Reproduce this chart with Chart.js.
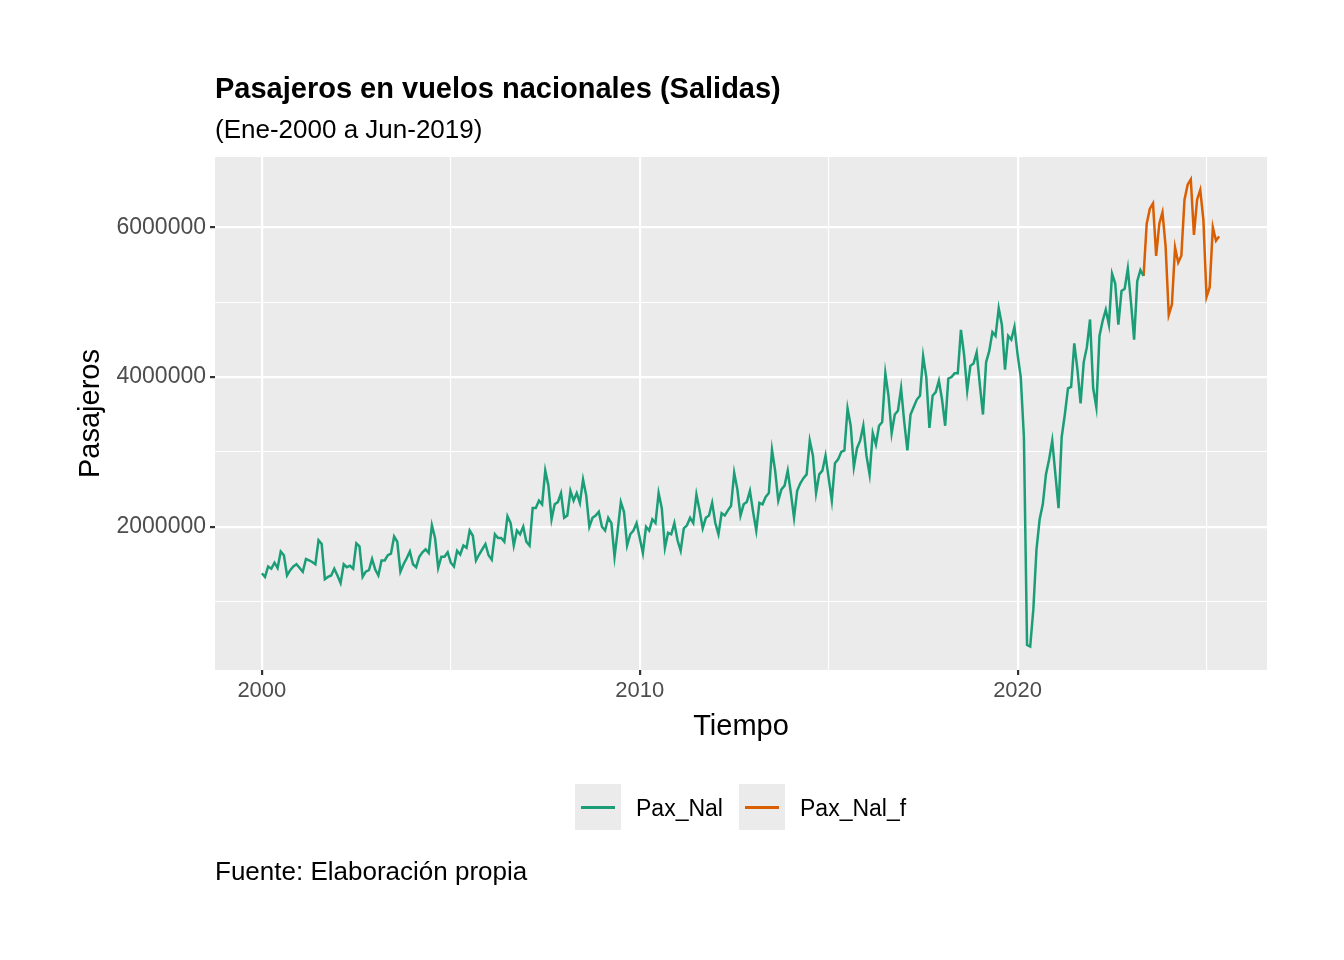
<!DOCTYPE html>
<html>
<head>
<meta charset="utf-8">
<script src="https://cdn.jsdelivr.net/npm/chart.js@4.4.1/dist/chart.umd.min.js"></script>
<style>
  body { margin: 0; background: #fff; font-family: "Liberation Sans", Arial, sans-serif; }
  #wrap { position: relative; width: 1344px; height: 960px; }
  canvas { position: absolute; left: 0; top: 0; }
  .txt { position: absolute; white-space: nowrap; color: #000; line-height: 1; }
  .key { position: absolute; width: 46px; height: 46px; background: #ebebeb; }
  .key span { position: absolute; left: 6px; right: 6px; top: 22px; height: 2.5px; }
</style>
</head>
<body>
<div id="wrap">
  <canvas id="chart" width="1344" height="960"></canvas>
  <div class="txt" style="left:215px; top:74px; font-size:29px; font-weight:bold;">Pasajeros en vuelos nacionales (Salidas)</div>
  <div class="txt" style="left:215px; top:116px; font-size:26px;">(Ene-2000 a Jun-2019)</div>
  <div class="key" style="left:575px; top:784px;"><span style="background:#1b9e77"></span></div>
  <div class="txt" style="left:636px; top:797px; font-size:23px;">Pax_Nal</div>
  <div class="key" style="left:739px; top:784px;"><span style="background:#d95f02"></span></div>
  <div class="txt" style="left:800px; top:797px; font-size:23px;">Pax_Nal_f</div>
  <div class="txt" style="left:215px; top:858px; font-size:26px;">Fuente: Elaboración propia</div>
</div>
<script>
// monthly series, millions of passengers, starting Jan-2000
const startYear = 2000;
const paxNal = [
  1.38,1.33,1.47,1.44,1.52,1.45,1.67,1.62,1.35,1.42,1.47,1.50,
  1.45,1.40,1.57,1.55,1.53,1.50,1.82,1.77,1.30,1.33,1.35,1.44,
  1.35,1.25,1.50,1.46,1.48,1.44,1.78,1.74,1.33,1.40,1.42,1.57,
  1.43,1.35,1.55,1.55,1.62,1.64,1.87,1.80,1.40,1.50,1.58,1.67,
  1.50,1.46,1.60,1.66,1.70,1.65,2.02,1.85,1.45,1.60,1.60,1.66,
  1.52,1.47,1.68,1.63,1.75,1.72,1.95,1.88,1.55,1.63,1.70,1.77,
  1.62,1.56,1.90,1.85,1.85,1.80,2.14,2.05,1.75,1.95,1.90,2.00,
  1.80,1.75,2.25,2.25,2.35,2.30,2.75,2.55,2.10,2.30,2.33,2.45,
  2.12,2.15,2.48,2.35,2.45,2.32,2.63,2.42,2.00,2.12,2.15,2.20,
  2.00,1.95,2.12,2.05,1.60,1.95,2.33,2.20,1.75,1.90,1.95,2.05,
  1.85,1.65,2.00,1.95,2.10,2.05,2.45,2.25,1.72,1.92,1.90,2.05,
  1.82,1.68,1.98,2.02,2.12,2.05,2.43,2.22,1.98,2.12,2.15,2.32,
  2.05,1.90,2.18,2.15,2.22,2.28,2.72,2.50,2.15,2.30,2.33,2.48,
  2.20,1.95,2.32,2.30,2.40,2.45,3.03,2.75,2.35,2.50,2.55,2.75,
  2.45,2.12,2.48,2.58,2.65,2.70,3.15,2.95,2.45,2.70,2.75,2.95,
  2.65,2.35,2.85,2.90,3.00,3.02,3.58,3.35,2.80,3.05,3.15,3.35,
  2.95,2.70,3.25,3.10,3.35,3.40,4.05,3.75,3.25,3.50,3.55,3.85,
  3.40,3.02,3.50,3.60,3.70,3.75,4.28,4.00,3.32,3.75,3.80,3.95,
  3.70,3.35,3.98,4.00,4.05,4.05,4.63,4.30,3.82,4.15,4.18,4.33,
  3.90,3.50,4.20,4.35,4.60,4.55,4.92,4.70,4.10,4.55,4.50,4.67,
  4.30,4.00,3.20,0.42,0.40,0.90,1.70,2.10,2.30,2.70,2.90,3.15,
  2.70,2.25,3.20,3.50,3.85,3.87,4.45,4.10,3.65,4.20,4.40,4.77,
  3.85,3.60,4.55,4.75,4.90,4.70,5.38,5.25,4.70,5.15,5.18,5.45,
  5.00,4.50,5.28,5.43,5.35
];
// forecast, starting May-2023 (joins the last observed month)
const forecastStart = 2023 + 4 / 12;
const paxNalF = [
  5.35,6.05,6.25,6.32,5.62,6.05,6.20,5.75,
  4.83,4.97,5.73,5.53,5.62,6.37,6.57,6.64,5.90,6.37,6.50,6.10,
  5.07,5.20,6.00,5.82,5.88
];
const yTicks = [2000000, 4000000, 6000000];
const xTicks = [2000, 2010, 2020];

const toPoints = (vals, t0) => vals.map((v, i) => ({ x: t0 + i / 12, y: v * 1e6 }));

// grey panel behind the plot
const panelBg = {
  id: 'panelBg',
  beforeDraw(chart) {
    const a = chart.chartArea, c = chart.ctx;
    c.save();
    c.fillStyle = '#ebebeb';
    c.fillRect(a.left, a.top, a.right - a.left, a.bottom - a.top);
    c.restore();
  }
};

new Chart(document.getElementById('chart'), {
  type: 'scatter',
  data: {
    datasets: [
      { label: 'Pax_Nal', data: toPoints(paxNal, startYear), showLine: true,
        borderColor: '#1b9e77', borderWidth: 2.5, pointRadius: 0, tension: 0 },
      { label: 'Pax_Nal_f', data: toPoints(paxNalF, forecastStart), showLine: true,
        borderColor: '#d95f02', borderWidth: 2.5, pointRadius: 0, tension: 0 }
    ]
  },
  options: {
    responsive: false,
    animation: false,
    layout: { padding: { top: 157, right: 77, bottom: 216, left: 74 } },
    plugins: { legend: { display: false }, tooltip: { enabled: false } },
    scales: {
      x: {
        type: 'linear', min: 1998.76, max: 2026.6,
        afterBuildTicks: s => { s.ticks = [2000, 2005, 2010, 2015, 2020, 2025].map(v => ({ value: v })); },
        afterFit: s => { s.height = 74; },
        grid: {
          color: '#ffffff',
          lineWidth: c => xTicks.includes(c.tick.value) ? 2.2 : 1.1,
          tickColor: c => xTicks.includes(c.tick.value) ? '#333333' : 'rgba(0,0,0,0)',
          tickLength: 5
        },
        border: { display: false },
        ticks: {
          color: '#4d4d4d', font: { size: 22, family: 'Liberation Sans' }, padding: 3,
          maxRotation: 0,
          callback: v => xTicks.includes(v) ? String(v) : ''
        },
        title: { display: true, text: 'Tiempo', color: '#000', font: { size: 29, family: 'Liberation Sans' }, padding: { top: 0, bottom: 0 } }
      },
      y: {
        min: 87000, max: 6940000,
        afterBuildTicks: s => { s.ticks = [1e6, 2e6, 3e6, 4e6, 5e6, 6e6].map(v => ({ value: v })); },
        afterFit: s => { s.width = 141; },
        grid: {
          color: '#ffffff',
          lineWidth: c => yTicks.includes(c.tick.value) ? 2.2 : 1.1,
          tickColor: c => yTicks.includes(c.tick.value) ? '#333333' : 'rgba(0,0,0,0)',
          tickLength: 5
        },
        border: { display: false },
        ticks: {
          color: '#4d4d4d', font: { size: 23, family: 'Liberation Sans' }, padding: 4,
          callback: v => yTicks.includes(v) ? String(v) : ''
        },
        title: { display: true, text: 'Pasajeros', color: '#000', font: { size: 29, family: 'Liberation Sans' }, padding: 0 }
      }
    }
  },
  plugins: [panelBg]
});
</script>
</body>
</html>
